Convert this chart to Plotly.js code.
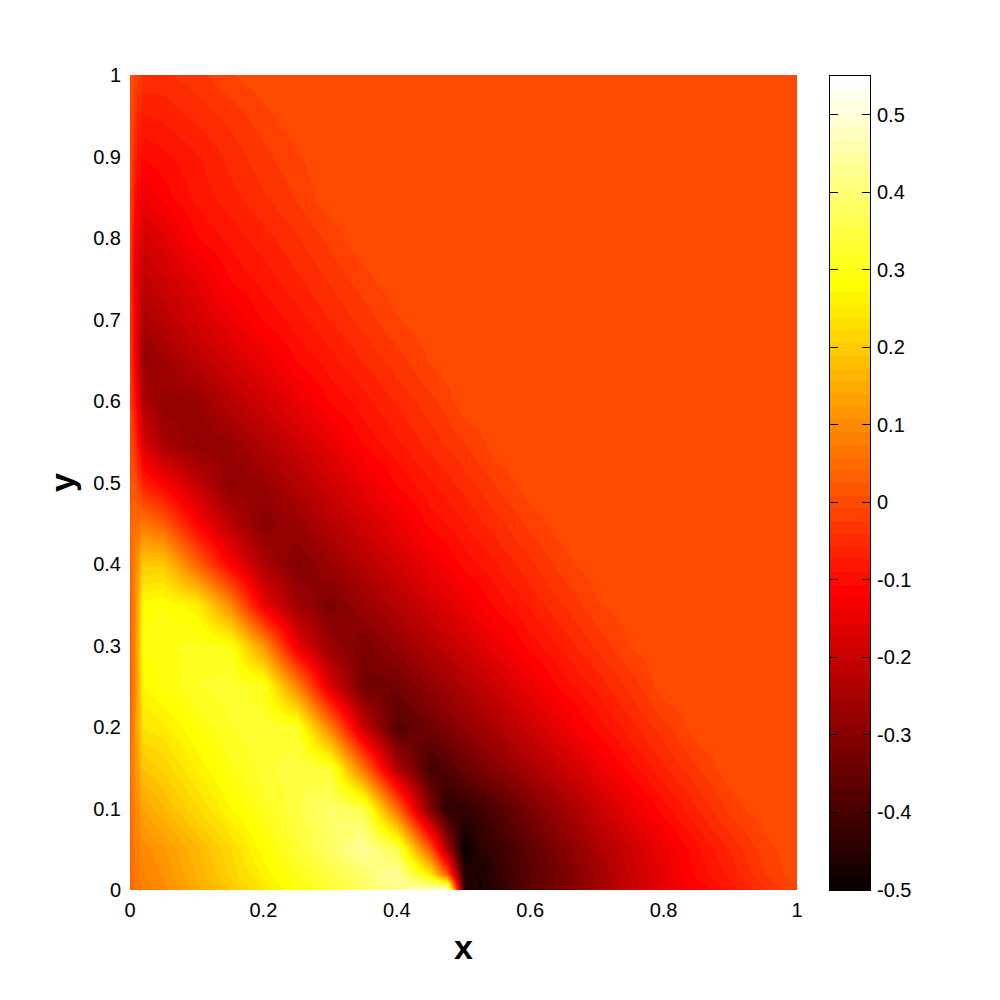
<!DOCTYPE html>
<html>
<head>
<meta charset="utf-8">
<script src="https://cdn.plot.ly/plotly-3.0.1.min.js"></script>
<style>
  body { margin: 0; background: white; }
</style>
</head>
<body>
<div id="myDiv" style="width:1000px;height:1000px"></div>
<script>
'use strict';

var xValues = [0, .008, .02, .05, .1, .15, .2, .25, .3, .35, .4, .45, .475, .5, .525, .55, .6, .65, .7, .75, .8, .85, .9, .95, 1];
var yValues = [0, .02, .05, .1, .15, .2, .25, .3, .35, .4, .45, .5, .55, .6, .65, .7, .75, .8, .85, .9, .95, 1];

// one row per y value
var row000 = [.04, .06, .08, .1, .15, .19, .24, .29, .33, .38, .43, .49, .53, -.45, -.47, -.44, -.37, -.32, -.26, -.2, -.155, -.12, -.084, -.043, -.01];
var row002 = [.05, .07, .09, .11, .16, .21, .26, .31, .35, .39, .44, .25, .02, -.45, -.47, -.43, -.37, -.32, -.26, -.2, -.15, -.1, -.068, -.026, .005];
var row005 = [.05, .08, .1, .12, .17, .22, .28, .33, .38, .44, .36, .02, -.25, -.5, -.44, -.42, -.36, -.3, -.245, -.19, -.14, -.093, -.055, -.014, .005];
var row010 = [.05, .09, .14, .17, .22, .27, .31, .35, .39, .36, .05, -.31, -.44, -.43, -.41, -.38, -.32, -.26, -.2, -.145, -.097, -.058, -.018, .005, .005];
var row015 = [.06, .11, .19, .21, .26, .3, .33, .35, .33, .06, -.24, -.4, -.38, -.345, -.32, -.295, -.245, -.195, -.145, -.097, -.06, -.025, .005, .005, .005];
var row020 = [.05, .11, .24, .25, .29, .32, .33, .32, .08, -.2, -.38, -.333, -.309, -.285, -.262, -.238, -.19, -.143, -.098, -.064, -.029, .005, .005, .005, .005];
var row025 = [.03, .1, .27, .29, .32, .33, .31, .09, -.17, -.33, -.329, -.283, -.26, -.236, -.213, -.19, -.143, -.098, -.068, -.035, .005, .005, .005, .005, .005];
var row030 = [.03, .1, .29, .3, .31, .3, .12, -.147, -.276, -.318, -.274, -.23, -.208, -.186, -.164, -.142, -.1, -.068, -.037, -.006, .005, .005, .005, .005, .005];
var row035 = [.04, .1, .28, .29, .26, .1, -.14, -.26, -.313, -.27, -.228, -.185, -.165, -.142, -.12, -.1, -.07, -.04, -.01, .005, .005, .005, .005, .005, .005];
var row040 = [.05, .09, .2, .2, .04, -.12, -.24, -.31, -.269, -.227, -.185, -.142, -.121, -.1, -.089, -.073, -.044, -.014, .005, .005, .005, .005, .005, .005, .005];
var row045 = [.04, .05, .07, .03, -.12, -.22, -.3, -.268, -.226, -.184, -.143, -.1, -.089, -.074, -.06, -.046, -.018, .005, .005, .005, .005, .005, .005, .005, .005];
var row050 = [.01, .01, -.07, -.12, -.21, -.29, -.27, -.231, -.188, -.145, -.104, -.076, -.063, -.049, -.035, -.021, .005, .005, .005, .005, .005, .005, .005, .005, .005];
var row055 = [0, -.05, -.18, -.25, -.29, -.27, -.23, -.19, -.148, -.103, -.076, -.05, -.036, -.024, -.011, .005, .005, .005, .005, .005, .005, .005, .005, .005, .005];
var row060 = [-.01, -.1, -.24, -.28, -.27, -.225, -.185, -.145, -.104, -.08, -.054, -.029, -.016, .005, .005, .005, .005, .005, .005, .005, .005, .005, .005, .005, .005];
var row065 = [-.03, -.13, -.28, -.26, -.22, -.18, -.145, -.104, -.08, -.056, -.031, -.006, .005, .005, .005, .005, .005, .005, .005, .005, .005, .005, .005, .005, .005];
var row070 = [-.03, -.13, -.25, -.22, -.18, -.14, -.105, -.081, -.057, -.034, -.01, .005, .005, .005, .005, .005, .005, .005, .005, .005, .005, .005, .005, .005, .005];
var row075 = [-.03, -.15, -.21, -.19, -.15, -.105, -.083, -.06, -.037, -.014, .005, .005, .005, .005, .005, .005, .005, .005, .005, .005, .005, .005, .005, .005, .005];
var row080 = [-.02, -.13, -.18, -.16, -.107, -.084, -.064, -.043, -.018, .005, .005, .005, .005, .005, .005, .005, .005, .005, .005, .005, .005, .005, .005, .005, .005];
var row085 = [-.01, -.1, -.14, -.115, -.084, -.064, -.043, -.022, .005, .005, .005, .005, .005, .005, .005, .005, .005, .005, .005, .005, .005, .005, .005, .005, .005];
var row090 = [0, -.07, -.105, -.095, -.076, -.051, -.03, -.01, .005, .005, .005, .005, .005, .005, .005, .005, .005, .005, .005, .005, .005, .005, .005, .005, .005];
var row095 = [.005, -.04, -.075, -.07, -.051, -.035, -.014, .005, .005, .005, .005, .005, .005, .005, .005, .005, .005, .005, .005, .005, .005, .005, .005, .005, .005];
var row100 = [.005, -.01, -.04, -.045, -.03, -.01, .005, .005, .005, .005, .005, .005, .005, .005, .005, .005, .005, .005, .005, .005, .005, .005, .005, .005, .005];

var zValues = [row000, row002, row005, row010, row015, row020, row025, row030, row035, row040, row045,
  row050, row055, row060, row065, row070, row075, row080, row085, row090, row095, row100];

var xTicks = [0, 0.2, 0.4, 0.6, 0.8, 1];
var xTickText = ['0', '0.2', '0.4', '0.6', '0.8', '1'];
var yTicks = [0, 0.1, 0.2, 0.3, 0.4, 0.5, 0.6, 0.7, 0.8, 0.9, 1];
var yTickText = ['0', '0.1', '0.2', '0.3', '0.4', '0.5', '0.6', '0.7', '0.8', '0.9', '1'];
var barTicks = [-0.5, -0.4, -0.3, -0.2, -0.1, 0, 0.1, 0.2, 0.3, 0.4, 0.5];
var barTickText = ['-0.5', '-0.4', '-0.3', '-0.2', '-0.1', '0', '0.1', '0.2', '0.3', '0.4', '0.5'];

var zMin = -0.5;
var zMax = 0.55;
var nLevels = 64;

// 64 step "hot" palette, stepped so the bands show like the original
var hotScale = [];
var barLevels = [];
var barRows = [];
for (var i = 1; i <= nLevels; i++) {
  var r = Math.min(1, i / 24);
  var g = Math.max(0, Math.min(1, (i - 24) / 24));
  var b = Math.max(0, (i - 48) / 16);
  var col = 'rgb(' + Math.round(r * 255) + ',' + Math.round(g * 255) + ',' + Math.round(b * 255) + ')';
  hotScale.push([(i - 1) / nLevels, col]);
  hotScale.push([i / nLevels, col]);
  barLevels.push(zMin + (i - 0.5) * (zMax - zMin) / nLevels);
  barRows.push([barLevels[i - 1]]);
}

var field = {
  type: 'heatmap',
  x: xValues,
  y: yValues,
  z: zValues,
  zmin: zMin,
  zmax: zMax,
  zsmooth: 'best',
  colorscale: hotScale,
  showscale: false
};

var bar = {
  type: 'heatmap',
  xaxis: 'x2',
  yaxis: 'y2',
  x: [0],
  y: barLevels,
  z: barRows,
  zmin: zMin,
  zmax: zMax,
  colorscale: hotScale,
  showscale: false,
  hoverinfo: 'y'
};

var tickFont = { family: 'Liberation Sans, Arial, sans-serif', size: 20, color: 'black' };
var titleFont = { family: 'Liberation Sans, Arial, sans-serif', size: 34, color: 'black', weight: 'bold' };

var layout = {
  width: 1000,
  height: 1000,
  margin: { l: 130, r: 130, t: 75, b: 110, pad: 0 },
  paper_bgcolor: 'white',
  plot_bgcolor: 'white',
  showlegend: false,
  xaxis: {
    domain: [0, 667 / 740],
    range: [0, 1],
    tickmode: 'array',
    tickvals: xTicks,
    ticktext: xTickText,
    tickangle: 0,
    ticks: '',
    ticklabelstandoff: 6,
    showgrid: false,
    zeroline: false,
    showline: false,
    tickfont: tickFont,
    title: { text: '<b>x</b>', font: titleFont, standoff: 15 }
  },
  yaxis: {
    range: [0, 1],
    tickmode: 'array',
    tickvals: yTicks,
    ticktext: yTickText,
    ticks: '',
    ticklabelstandoff: 8,
    showgrid: false,
    zeroline: false,
    showline: false,
    tickfont: tickFont,
    title: { text: '<b>y</b>', font: titleFont, standoff: 8 }
  },
  xaxis2: {
    domain: [700 / 740, 1],
    anchor: 'y2',
    showticklabels: false,
    ticks: '',
    showgrid: false,
    zeroline: false,
    showline: true,
    mirror: true,
    linecolor: 'black',
    linewidth: 1
  },
  yaxis2: {
    domain: [0, 814 / 815],
    anchor: 'x2',
    side: 'right',
    range: [zMin, zMax],
    tickmode: 'array',
    tickvals: barTicks,
    ticktext: barTickText,
    ticks: 'inside',
    ticklen: 8,
    tickwidth: 1,
    tickcolor: 'black',
    ticklabelstandoff: 2,
    showgrid: false,
    zeroline: false,
    showline: true,
    mirror: 'ticks',
    linecolor: 'black',
    linewidth: 1,
    tickfont: tickFont
  }
};

Plotly.newPlot('myDiv', [field, bar], layout, { displayModeBar: false });
</script>
</body>
</html>
